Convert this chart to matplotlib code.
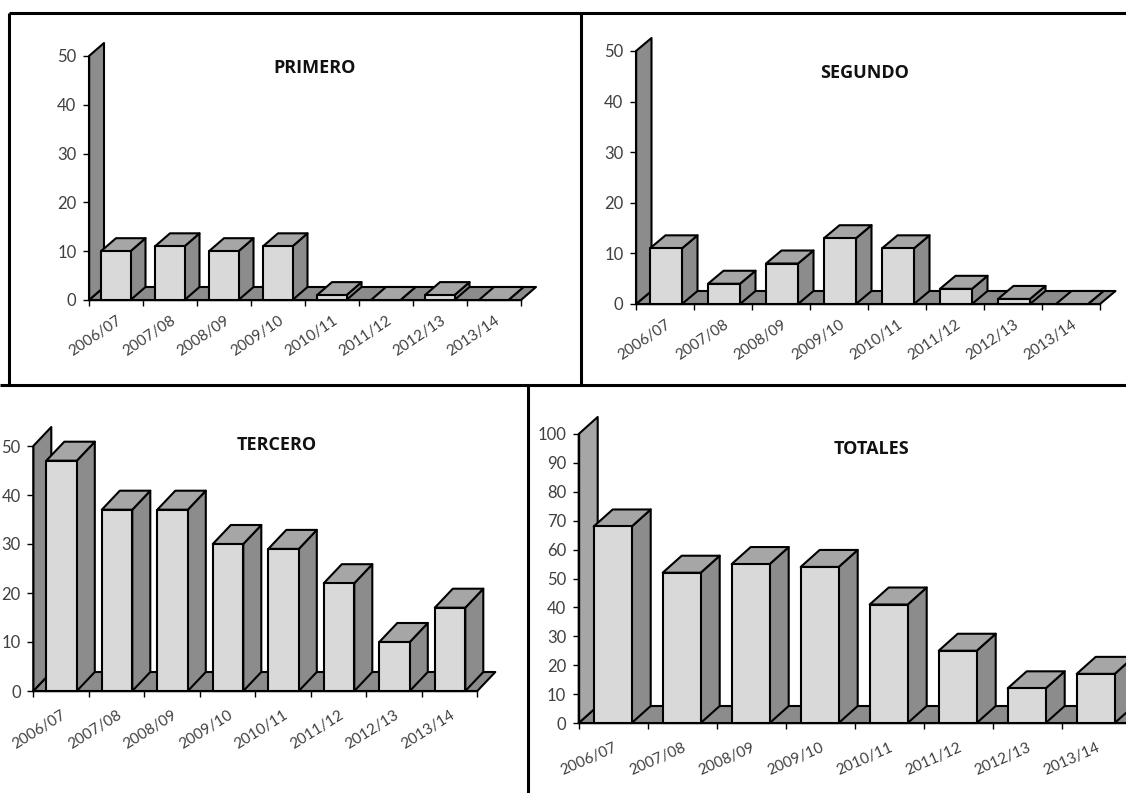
import matplotlib
matplotlib.use("Agg")
import matplotlib.pyplot as plt
from matplotlib.patches import Polygon
from matplotlib.lines import Line2D
import numpy as np

plt.rcParams['font.family'] = ['Lato', 'DejaVu Sans']

W, H = 1126, 793
cursos = ["2006/07", "2007/08", "2008/09", "2009/10", "2010/11", "2011/12", "2012/13", "2013/14"]
primero = [10, 11, 10, 11, 1, 0, 1, 0]
segundo = [11, 4, 8, 13, 11, 3, 1, 0]
tercero = [47, 37, 37, 30, 29, 22, 10, 17]
totales = [68, 52, 55, 54, 41, 25, 12, 17]

FRONT, TOP, SIDE, DARK = "#d9d9d9", "#a6a6a6", "#8c8c8c", "#8c8c8c"
TXT = "#404040"


def panel(title, vals, ymax, step, x0, spacing, base, top, ddx, ddy, off, bw, wall, tx, ty, rot, pad):
    ax = fig.add_axes([x0 / W, 1 - base / H, 8 * spacing / W, (base - top) / H])
    ax.set_xlim(0, 8)
    ax.set_ylim(0, ymax)
    ax.patch.set_alpha(0)
    dx = ddx / spacing
    dy = ddy / ((base - top) / ymax)
    kw = dict(edgecolor="black", linewidth=1.5, joinstyle="round", clip_on=False)
    # floor and wall
    ax.add_patch(Polygon([(0, 0), (8, 0), (8 + dx, dy), (dx, dy)], facecolor=DARK, zorder=1, **kw))
    ax.add_patch(Polygon([(0, 0), (0, ymax), (dx, ymax + dy), (dx, dy)], facecolor=wall, zorder=1.5, **kw))
    w = bw / spacing
    o = off / spacing
    for i, v in enumerate(vals):
        l, r = i + o, i + o + w
        z = 2 + i * 0.01
        ax.add_patch(Polygon([(r, 0), (r + dx, dy), (r + dx, v + dy), (r, v)], facecolor=SIDE, zorder=z, **kw))
        ax.add_patch(Polygon([(l, v), (r, v), (r + dx, v + dy), (l + dx, v + dy)], facecolor=TOP, zorder=z, **kw))
        if v > 0:
            ax.add_patch(Polygon([(l, 0), (r, 0), (r, v), (l, v)], facecolor=FRONT, zorder=z, **kw))
    for s in ("top", "right"):
        ax.spines[s].set_visible(False)
    for s in ("left", "bottom"):
        ax.spines[s].set_linewidth(1.0)
        ax.spines[s].set_zorder(1.8)
    ax.set_yticks(np.arange(0, ymax + 1, step))
    ax.set_xticks(np.arange(9))
    ax.set_xticklabels([])
    ax.set_xticks(np.arange(8) + 0.5, minor=True)
    ax.set_xticklabels(cursos, minor=True, rotation=rot, ha="right", va="top",
                       rotation_mode="anchor", color=TXT, fontsize=11)
    ax.tick_params(axis="x", which="major", length=4, width=1)
    ax.tick_params(axis="x", which="minor", length=0, pad=pad)
    ax.tick_params(axis="y", length=4, width=1, labelsize=12, labelcolor=TXT, pad=5)
    fig.text(tx / W, 1 - ty / H, title, ha="center", va="center", fontsize=13,
             fontweight="bold", color="#111111", family="Open Sans")


fig = plt.figure(figsize=(W / 100, H / 100), dpi=100, facecolor="white")

panel("PRIMERO", primero, 50, 10, 89, 54, 300, 56, 15, 13, 12, 29.5, DARK, 315, 68, 34, 10)
panel("SEGUNDO", segundo, 50, 10, 636, 58, 304, 51, 15.5, 13, 14, 32, DARK, 865, 73, 34, 10)
panel("TERCERO", tercero, 50, 10, 33.3, 55.5, 691, 446, 18, 19, 13, 30.5, DARK, 277, 445, 32, 12)
panel("TOTALES", totales, 100, 10, 578.7, 69, 723, 434, 19, 17, 15, 38, TOP, 872, 449, 24, 13)

# frames of the collage
bg = fig.add_axes([0, 0, 1, 1], zorder=10)
bg.set_xlim(0, W)
bg.set_ylim(H, 0)
bg.axis("off")
for xs, ys in [((9, 1126), (13, 13)), ((9, 9), (13, 385)), ((581, 581), (13, 385)),
               ((0, 1126), (385, 385)), ((528, 528), (385, 793))]:
    bg.add_line(Line2D(xs, ys, color="black", linewidth=2.2, solid_capstyle="butt"))

fig.savefig("out.png", dpi=100)
